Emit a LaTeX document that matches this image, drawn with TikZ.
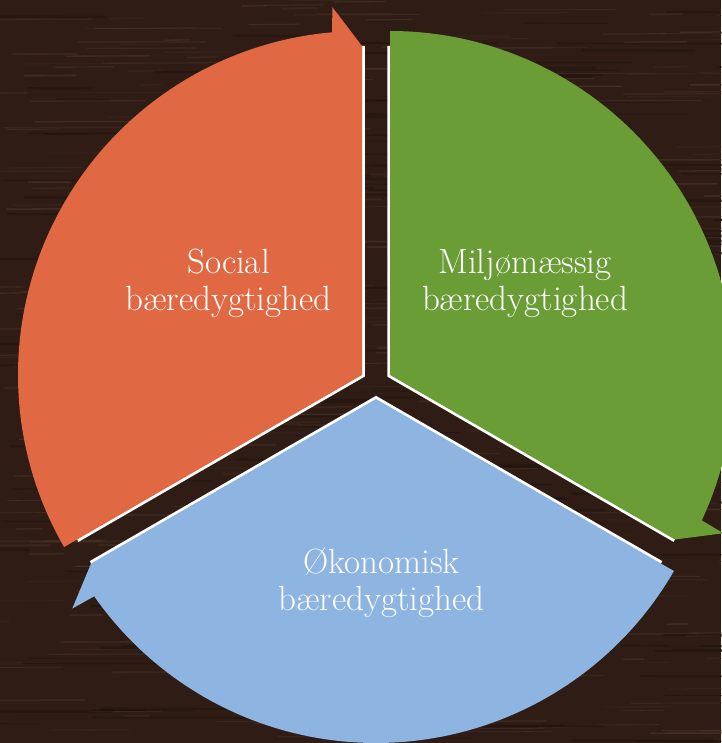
\documentclass[tikz,border=0pt]{standalone}
\usetikzlibrary{calc}
\definecolor{woodbase}{HTML}{2F1D15}
\definecolor{woodlight}{HTML}{5E4535}
\definecolor{wooddark}{HTML}{1E120C}
\definecolor{segorange}{HTML}{E06842}
\definecolor{seggreen}{HTML}{6B9D37}
\definecolor{segblue}{HTML}{8EB4E2}
\tikzset{
  seglabel/.style={text=white, align=center, inner sep=0pt,
    font=\fontsize{35pt}{37pt}\selectfont},
  segedge/.style={draw=white, line width=5.5pt, miter limit=20},
}
\begin{document}
\begin{tikzpicture}[x=1pt,y=1pt]
\useasboundingbox (0,0) rectangle (721,743);
% wood background
\fill[woodbase] (0,0) rectangle (721,743);
\pgfmathsetseed{11}
\foreach \i in {1,...,420}{
  \pgfmathsetmacro\xx{rnd*760-30}
  \pgfmathsetmacro\yy{rnd*743}
  \pgfmathsetmacro\ll{20+rnd*110}
  \pgfmathsetmacro\op{0.12+rnd*0.3}
  \pgfmathsetmacro\lw{0.5+rnd*1.5}
  \draw[woodlight, opacity=\op, line width=\lw pt] (\xx,\yy) -- ++(\ll,0.4);
}
\foreach \i in {1,...,200}{
  \pgfmathsetmacro\xx{rnd*760-30}
  \pgfmathsetmacro\yy{rnd*743}
  \pgfmathsetmacro\ll{30+rnd*150}
  \pgfmathsetmacro\lw{0.8+rnd*2}
  \draw[wooddark, opacity=0.5, line width=\lw pt] (\xx,\yy) -- ++(\ll,-0.3);
}
% centres of the three segments
\coordinate (Oo) at (362,368);
\coordinate (Og) at (390,368);
\coordinate (Ob) at (376,344);
% white edges
\draw[segedge] ($(Oo)+(210:329)$) -- (Oo) -- ($(Oo)+(90:329)$);
\draw[segedge] ($(Og)+(90:329)$) -- (Og) -- ($(Og)+(-30:329)$);
\draw[segedge] ($(Ob)+(-30:329)$) -- (Ob) -- ($(Ob)+(-150:329)$);
% segments
\fill[segorange] (Oo) -- ++(210:344) arc[start angle=210, end angle=95, radius=344]
  -- ($(Oo)+(94.6:369)$) -- ($(Oo)+(90:329)$) -- cycle;
\fill[seggreen] (Og) -- ++(90:344) arc[start angle=90, end angle=-25, radius=344]
  -- ($(Og)+(-25.4:369)$) -- ($(Og)+(-30:329)$) -- cycle;
\fill[segblue] (Ob) -- ++(-30:344) arc[start angle=-30, end angle=-145, radius=344]
  -- ($(Ob)+(-145.4:369)$) -- ($(Ob)+(-150:329)$) -- cycle;
% labels
\node[seglabel] (social) at (228.5,460) {Social\\bæredygtighed};
\node[seglabel] (miljo) at (525,460) {Miljømæssig\\bæredygtighed};
\node[seglabel] (okonomi) at (381.5,160) {Økonomisk\\bæredygtighed};
\end{tikzpicture}
\end{document}
